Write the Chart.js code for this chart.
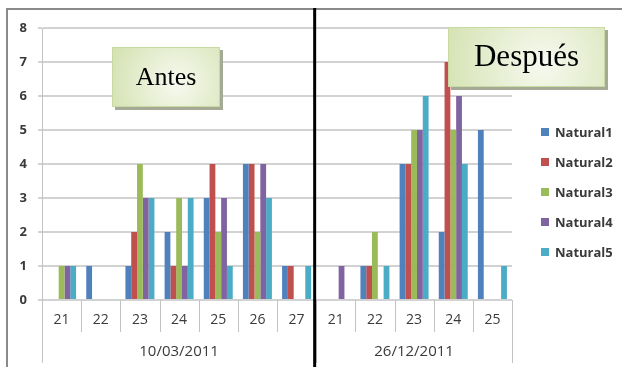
<!DOCTYPE html>
<html>
<head>
<meta charset="utf-8">
<script src="https://cdn.jsdelivr.net/npm/chart.js@4"></script>
<style>
  html, body { margin: 0; padding: 0; background: #fff; }
  #wrap { width: 622px; height: 367px; }
</style>
</head>
<body>
<div id="wrap"><canvas id="c" width="622" height="367"></canvas></div>
<script>
// Sampling days, grouped by survey date
const days = ['21', '22', '23', '24', '25', '26', '27', '21', '22', '23', '24', '25'];
const periods = ['10/03/2011', '26/12/2011'];
const periodSizes = [7, 5];
const periodNotes = ['Antes', 'Después'];

// Counts per day for each natural site
const seriesNames = ['Natural1', 'Natural2', 'Natural3', 'Natural4', 'Natural5'];
const seriesColors = ['#4F81BD', '#C0504D', '#9BBB59', '#8064A2', '#4BACC6'];
const natural1 = [0, 1, 1, 2, 3, 4, 1, 0, 1, 4, 2, 5];
const natural2 = [0, 0, 2, 1, 4, 4, 1, 0, 1, 4, 7, 0];
const natural3 = [1, 0, 4, 3, 2, 2, 0, 0, 2, 5, 5, 0];
const natural4 = [1, 0, 3, 1, 3, 4, 0, 1, 0, 5, 6, 0];
const natural5 = [1, 0, 3, 3, 1, 3, 1, 0, 1, 6, 4, 1];
const yTicks = [0, 1, 2, 3, 4, 5, 6, 7, 8];

const seriesValues = [natural1, natural2, natural3, natural4, natural5];

const LINE = '#c3c3c3';
const TEXT = '#3a3a3a';

function noteBox(ctx, x, y, w, h, text, size) {
  ctx.save();
  ctx.fillStyle = '#a4aa96';
  ctx.fillRect(x + 3, y + 3, w, h);
  const g = ctx.createRadialGradient(x + w * 0.6, y + h * 0.6, 2, x + w * 0.6, y + h * 0.6, w * 0.7);
  g.addColorStop(0, '#f6f9ee');
  g.addColorStop(1, '#d2e0ad');
  ctx.fillStyle = g;
  ctx.fillRect(x, y, w, h);
  ctx.strokeStyle = '#c8d9a2';
  ctx.lineWidth = 1;
  ctx.strokeRect(x + 0.5, y + 0.5, w - 1, h - 1);
  ctx.fillStyle = '#000';
  ctx.font = size + 'px "Liberation Serif", "DejaVu Serif", serif';
  ctx.textAlign = 'center';
  ctx.textBaseline = 'middle';
  ctx.fillText(text, x + w / 2, y + h / 2 + 1);
  ctx.restore();
}

const decorations = {
  id: 'decorations',
  beforeDraw(chart) {
    const ctx = chart.ctx;
    ctx.save();
    ctx.fillStyle = '#fff';
    ctx.fillRect(0, 0, chart.width, chart.height);
    ctx.restore();
  },
  afterDraw(chart) {
    const ctx = chart.ctx;
    const xs = chart.scales.x;
    const area = chart.chartArea;
    const n = days.length;
    const cw = (xs.right - xs.left) / n;
    const edge = i => xs.getPixelForValue(0) - cw / 2 + i * cw;

    ctx.save();
    // outer frame
    ctx.strokeStyle = '#8a8a8a';
    ctx.lineWidth = 2;
    ctx.beginPath();
    ctx.moveTo(7, chart.height);
    ctx.lineTo(7, 9);
    ctx.lineTo(chart.width, 9);
    ctx.stroke();

    // category separators and period separators below the axis
    ctx.strokeStyle = LINE;
    ctx.lineWidth = 1;
    const groupEdges = [0];
    periodSizes.forEach(s => groupEdges.push(groupEdges[groupEdges.length - 1] + s));
    for (let i = 0; i <= n; i++) {
      const px = Math.round(edge(i)) + 0.5;
      const longer = groupEdges.includes(i);
      ctx.beginPath();
      ctx.moveTo(px, longer && i === 0 ? area.top : area.bottom);
      ctx.lineTo(px, longer ? 363 : 332);
      ctx.stroke();
    }

    // period labels
    ctx.fillStyle = TEXT;
    ctx.font = '15px "Open Sans", sans-serif';
    ctx.textAlign = 'center';
    ctx.textBaseline = 'middle';
    periods.forEach((p, k) => {
      const cx = (edge(groupEdges[k]) + edge(groupEdges[k + 1])) / 2;
      ctx.fillText(p, cx, 352);
    });

    // legend
    ctx.font = 'bold 13px "Open Sans", sans-serif';
    ctx.textAlign = 'left';
    chart.data.datasets.forEach((ds, i) => {
      const y = 132 + i * 30;
      ctx.fillStyle = ds.backgroundColor;
      ctx.fillRect(541, y - 4, 8, 8);
      ctx.fillStyle = TEXT;
      ctx.fillText(ds.label, 555, y + 1);
    });

    // period notes
    noteBox(ctx, 112, 47, 108, 60, periodNotes[0], 26);
    noteBox(ctx, 448, 27, 157, 60, periodNotes[1], 31);

    // divider between the two surveys
    ctx.strokeStyle = '#000';
    ctx.lineWidth = 3;
    const dx = edge(groupEdges[1]) - 1.5;
    ctx.beginPath();
    ctx.moveTo(dx, 8);
    ctx.lineTo(dx, chart.height);
    ctx.stroke();
    ctx.restore();
  }
};

new Chart(document.getElementById('c'), {
  type: 'bar',
  data: {
    labels: days,
    datasets: seriesNames.map((name, i) => ({
      label: name,
      data: seriesValues[i],
      backgroundColor: seriesColors[i],
      borderWidth: 0,
      categoryPercentage: 0.74,
      barPercentage: 1.0
    }))
  },
  options: {
    responsive: false,
    animation: false,
    layout: { padding: { top: 28, right: 110, bottom: 0, left: 0 } },
    plugins: { legend: { display: false }, tooltip: { enabled: false } },
    scales: {
      x: {
        grid: { display: true, drawOnChartArea: false, drawTicks: false, color: 'rgba(0,0,0,0)' },
        border: { display: false },
        ticks: { color: TEXT, font: { family: '"Open Sans", sans-serif', size: 14 }, padding: 12, maxRotation: 0, autoSkip: false },
        afterFit(s) { s.height = 67; }
      },
      y: {
        min: 0,
        max: 8,
        afterBuildTicks(s) { s.ticks = yTicks.map(v => ({ value: v })); },
        grid: { color: '#d2d2d2', lineWidth: 2, tickLength: 4 },
        border: { display: true, color: LINE, width: 1 },
        ticks: { color: TEXT, font: { family: '"Open Sans", sans-serif', size: 13, weight: 'bold' }, padding: 11 },
        afterFit(s) { s.width = 42; }
      }
    }
  },
  plugins: [decorations]
});
</script>
</body>
</html>
